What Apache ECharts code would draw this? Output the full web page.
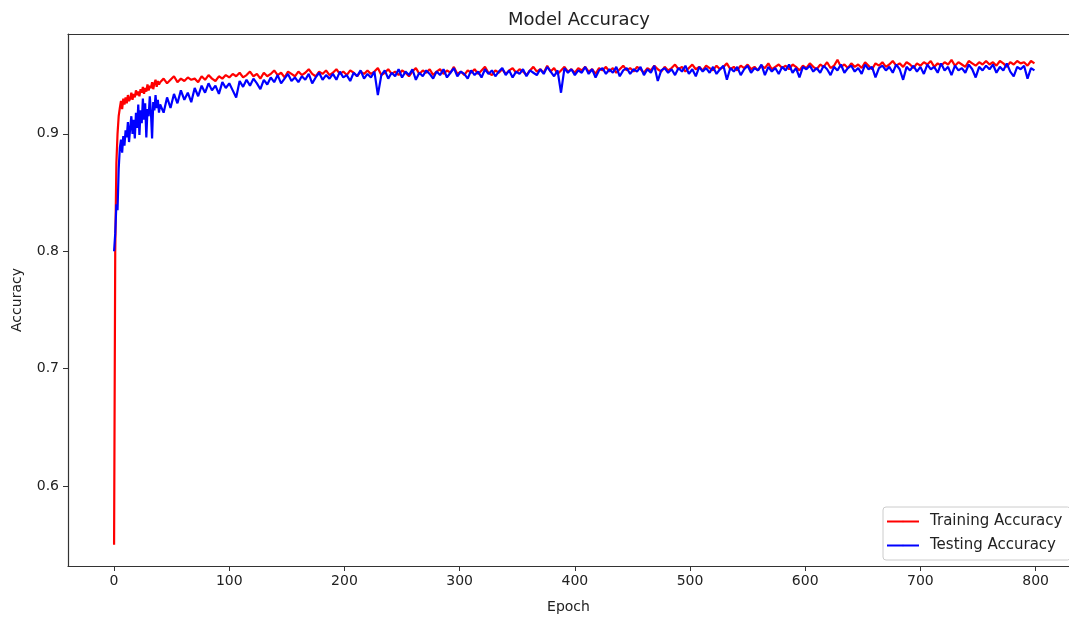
<!DOCTYPE html>
<html>
<head>
<meta charset="utf-8">
<title>Model Accuracy</title>
<script src="https://cdn.jsdelivr.net/npm/echarts@6/dist/echarts.min.js"></script>
<style>
  html, body { margin: 0; padding: 0; background: #fff; }
  #chart { width: 1069px; height: 619px; }
</style>
</head>
<body>
<div id="chart"></div>
<script>
// epochs (every epoch early on, then every 3rd epoch)
const epochs = [
  0,1,2,3,4,5,6,7,8,9,10,11,12,13,14,15,16,17,18,19,
  20,21,22,23,24,25,26,27,28,29,30,31,32,33,34,35,36,37,38,39,
  40,43,46,49,52,55,58,61,64,67,
  70,73,76,79,82,85,88,91,94,97,
  100,103,106,109,112,115,118,121,124,127,
  130,133,136,139,142,145,148,151,154,157,
  160,163,166,169,172,175,178,181,184,187,
  190,193,196,199,202,205,208,211,214,217,
  220,223,226,229,232,235,238,241,244,247,
  250,253,256,259,262,265,268,271,274,277,
  280,283,286,289,292,295,298,301,304,307,
  310,313,316,319,322,325,328,331,334,337,
  340,343,346,349,352,355,358,361,364,367,
  370,373,376,379,382,385,388,391,394,397,
  400,403,406,409,412,415,418,421,424,427,
  430,433,436,439,442,445,448,451,454,457,
  460,463,466,469,472,475,478,481,484,487,
  490,493,496,499,502,505,508,511,514,517,
  520,523,526,529,532,535,538,541,544,547,
  550,553,556,559,562,565,568,571,574,577,
  580,583,586,589,592,595,598,601,604,607,
  610,613,616,619,622,625,628,631,634,637,
  640,643,646,649,652,655,658,661,664,667,
  670,673,676,679,682,685,688,691,694,697,
  700,703,706,709,712,715,718,721,724,727,
  730,733,736,739,742,745,748,751,754,757,
  760,763,766,769,772,775,778,781,784,787,
  790,793,796,799
];

const trainAcc = [
  0.550,0.800,0.875,0.900,0.915,0.922,0.928,0.921,0.930,0.925,
  0.931,0.926,0.933,0.928,0.930,0.935,0.929,0.934,0.931,0.937,
  0.933,0.936,0.932,0.938,0.935,0.940,0.934,0.939,0.936,0.942,
  0.937,0.941,0.939,0.944,0.938,0.943,0.946,0.940,0.945,0.942,
  0.944,0.947,0.943,0.946,0.949,0.944,0.947,0.945,0.948,0.946,
  0.947,0.944,0.949,0.946,0.950,0.947,0.945,0.949,0.947,0.950,
  0.948,0.951,0.949,0.952,0.948,0.950,0.953,0.949,0.951,0.947,
  0.952,0.949,0.951,0.954,0.950,0.952,0.948,0.953,0.951,0.949,
  0.953,0.950,0.952,0.955,0.951,0.949,0.953,0.951,0.954,0.950,
  0.952,0.955,0.951,0.953,0.950,0.954,0.952,0.949,0.953,0.951,
  0.954,0.951,0.953,0.956,0.950,0.952,0.955,0.951,0.953,0.950,
  0.954,0.952,0.949,0.953,0.956,0.951,0.954,0.952,0.955,0.950,
  0.953,0.955,0.951,0.954,0.952,0.957,0.951,0.953,0.950,0.954,
  0.952,0.955,0.951,0.954,0.957,0.952,0.950,0.954,0.952,0.955,
  0.951,0.954,0.956,0.952,0.955,0.953,0.950,0.954,0.957,0.953,
  0.955,0.952,0.958,0.953,0.956,0.951,0.954,0.957,0.953,0.955,
  0.952,0.956,0.954,0.957,0.953,0.955,0.951,0.956,0.954,0.957,
  0.953,0.956,0.952,0.955,0.958,0.954,0.956,0.953,0.957,0.955,
  0.952,0.956,0.954,0.958,0.955,0.953,0.957,0.954,0.956,0.959,
  0.955,0.957,0.953,0.956,0.959,0.955,0.957,0.954,0.958,0.956,
  0.954,0.958,0.955,0.957,0.960,0.955,0.957,0.954,0.958,0.956,
  0.959,0.955,0.957,0.954,0.958,0.956,0.960,0.955,0.957,0.959,
  0.956,0.958,0.955,0.959,0.957,0.954,0.958,0.956,0.960,0.957,
  0.955,0.959,0.957,0.961,0.956,0.958,0.963,0.957,0.959,0.956,
  0.960,0.957,0.959,0.956,0.961,0.958,0.955,0.960,0.958,0.961,
  0.957,0.959,0.962,0.958,0.960,0.957,0.961,0.959,0.956,0.960,
  0.958,0.961,0.959,0.962,0.957,0.960,0.958,0.961,0.959,0.963,
  0.958,0.961,0.959,0.957,0.962,0.960,0.958,0.961,0.959,0.962,
  0.959,0.961,0.958,0.962,0.960,0.957,0.961,0.959,0.962,0.960,
  0.961,0.958,0.962,0.960
];

const testAcc = [
  0.800,0.815,0.840,0.835,0.870,0.888,0.895,0.884,0.898,0.890,
  0.903,0.897,0.910,0.893,0.905,0.915,0.900,0.912,0.896,0.918,
  0.905,0.925,0.899,0.920,0.909,0.930,0.912,0.926,0.897,0.921,
  0.915,0.932,0.918,0.896,0.927,0.920,0.933,0.922,0.929,0.918,
  0.925,0.918,0.931,0.922,0.934,0.926,0.937,0.929,0.935,0.927,
  0.939,0.932,0.941,0.935,0.943,0.937,0.941,0.934,0.944,0.939,
  0.943,0.937,0.931,0.945,0.940,0.946,0.941,0.947,0.943,0.938,
  0.946,0.942,0.948,0.944,0.950,0.943,0.947,0.951,0.945,0.948,
  0.944,0.949,0.946,0.951,0.943,0.948,0.952,0.946,0.950,0.947,
  0.951,0.946,0.953,0.948,0.950,0.945,0.952,0.949,0.954,0.947,
  0.951,0.948,0.953,0.933,0.950,0.954,0.947,0.952,0.949,0.955,
  0.948,0.953,0.950,0.955,0.946,0.952,0.949,0.954,0.951,0.947,
  0.953,0.950,0.955,0.948,0.952,0.956,0.949,0.953,0.951,0.947,
  0.954,0.950,0.953,0.948,0.955,0.951,0.954,0.949,0.953,0.956,
  0.950,0.954,0.948,0.953,0.951,0.955,0.949,0.954,0.952,0.950,
  0.955,0.951,0.957,0.953,0.949,0.954,0.935,0.956,0.952,0.955,
  0.950,0.954,0.952,0.957,0.951,0.955,0.948,0.954,0.956,0.951,
  0.955,0.952,0.957,0.949,0.954,0.956,0.951,0.955,0.953,0.957,
  0.950,0.955,0.952,0.958,0.945,0.954,0.956,0.952,0.955,0.950,
  0.956,0.953,0.958,0.951,0.955,0.949,0.957,0.953,0.956,0.952,
  0.957,0.951,0.955,0.958,0.946,0.956,0.953,0.957,0.950,0.955,
  0.958,0.952,0.956,0.954,0.959,0.950,0.957,0.953,0.956,0.951,
  0.957,0.954,0.959,0.952,0.956,0.948,0.957,0.955,0.958,0.953,
  0.956,0.952,0.958,0.955,0.950,0.957,0.954,0.959,0.952,0.956,
  0.958,0.953,0.956,0.951,0.959,0.955,0.957,0.948,0.956,0.958,
  0.954,0.957,0.952,0.959,0.955,0.946,0.957,0.954,0.958,0.953,
  0.957,0.951,0.959,0.955,0.957,0.952,0.960,0.954,0.957,0.950,
  0.958,0.954,0.956,0.952,0.959,0.955,0.948,0.957,0.954,0.958,
  0.955,0.959,0.952,0.957,0.954,0.960,0.953,0.949,0.957,0.955,
  0.958,0.947,0.956,0.954
];

const xTicks = [0, 100, 200, 300, 400, 500, 600, 700, 800];
const yTicks = [0.6, 0.7, 0.8, 0.9];

const chart = echarts.init(document.getElementById('chart'));
const font = 'DejaVu Sans';

const option = {
  animation: false,
  textStyle: { fontFamily: font },
  title: {
    text: 'Model Accuracy',
    left: 574,
    textAlign: 'center',
    top: 6,
    textStyle: { fontFamily: font, fontSize: 18, fontWeight: 'normal', color: '#222' }
  },
  // plot box continues past the right edge of the picture, so no right border
  grid: {
    left: 68,
    top: 34,
    bottom: 52,
    right: 0
  },
  legend: {
    left: 883,
    top: 507,
    orient: 'vertical',
    itemWidth: 32,
    itemHeight: 2,
    itemGap: 9,
    padding: [7, 8, 7, 3],
    borderColor: '#ccc',
    borderWidth: 1,
    borderRadius: 3,
    backgroundColor: '#fff',
    textStyle: { fontFamily: font, fontSize: 15, color: '#222', padding: [0, 0, 0, 6] },
    data: ['Training Accuracy', 'Testing Accuracy']
  },
  xAxis: [
    {
      type: 'value',
      min: -40,
      max: 829,
      name: 'Epoch',
      nameLocation: 'middle',
      nameGap: 34,
      nameTextStyle: { fontFamily: font, fontSize: 14, color: '#222' },
      splitLine: { show: false },
      axisLine: { show: true, onZero: false, lineStyle: { color: '#333', width: 1.2 } },
      axisTick: { show: true, inside: false, length: 5, lineStyle: { color: '#333' }, customValues: xTicks },
      axisLabel: { fontFamily: font, fontSize: 14, color: '#222', margin: 8, customValues: xTicks }
    },
    {
      // top edge of the box
      type: 'value',
      position: 'top',
      min: -40,
      max: 829,
      splitLine: { show: false },
      axisLine: { show: true, onZero: false, lineStyle: { color: '#333', width: 1.2 } },
      axisTick: { show: false },
      axisLabel: { show: false }
    }
  ],
  yAxis: {
    type: 'value',
    min: 0.532,
    max: 0.985,
    name: 'Accuracy',
    nameLocation: 'middle',
    nameGap: 44,
    nameTextStyle: { fontFamily: font, fontSize: 14, color: '#222' },
    splitLine: { show: false },
    axisLine: { show: true, onZero: false, lineStyle: { color: '#333', width: 1.2 } },
    axisTick: { show: true, inside: false, length: 5, lineStyle: { color: '#333' }, customValues: yTicks },
    axisLabel: { fontFamily: font, fontSize: 14, color: '#222', margin: 9, customValues: yTicks,
      formatter: v => v.toFixed(1) }
  },
  series: [
    {
      name: 'Training Accuracy',
      type: 'line',
      symbol: 'none',
      data: epochs.map((e, i) => [e, trainAcc[i]]),
      lineStyle: { color: '#ff0000', width: 2.2 },
      itemStyle: { color: '#ff0000' }
    },
    {
      name: 'Testing Accuracy',
      type: 'line',
      symbol: 'none',
      data: epochs.map((e, i) => [e, testAcc[i]]),
      lineStyle: { color: '#0000ff', width: 2.2 },
      itemStyle: { color: '#0000ff' }
    }
  ]
};

chart.setOption(option);
</script>
</body>
</html>
